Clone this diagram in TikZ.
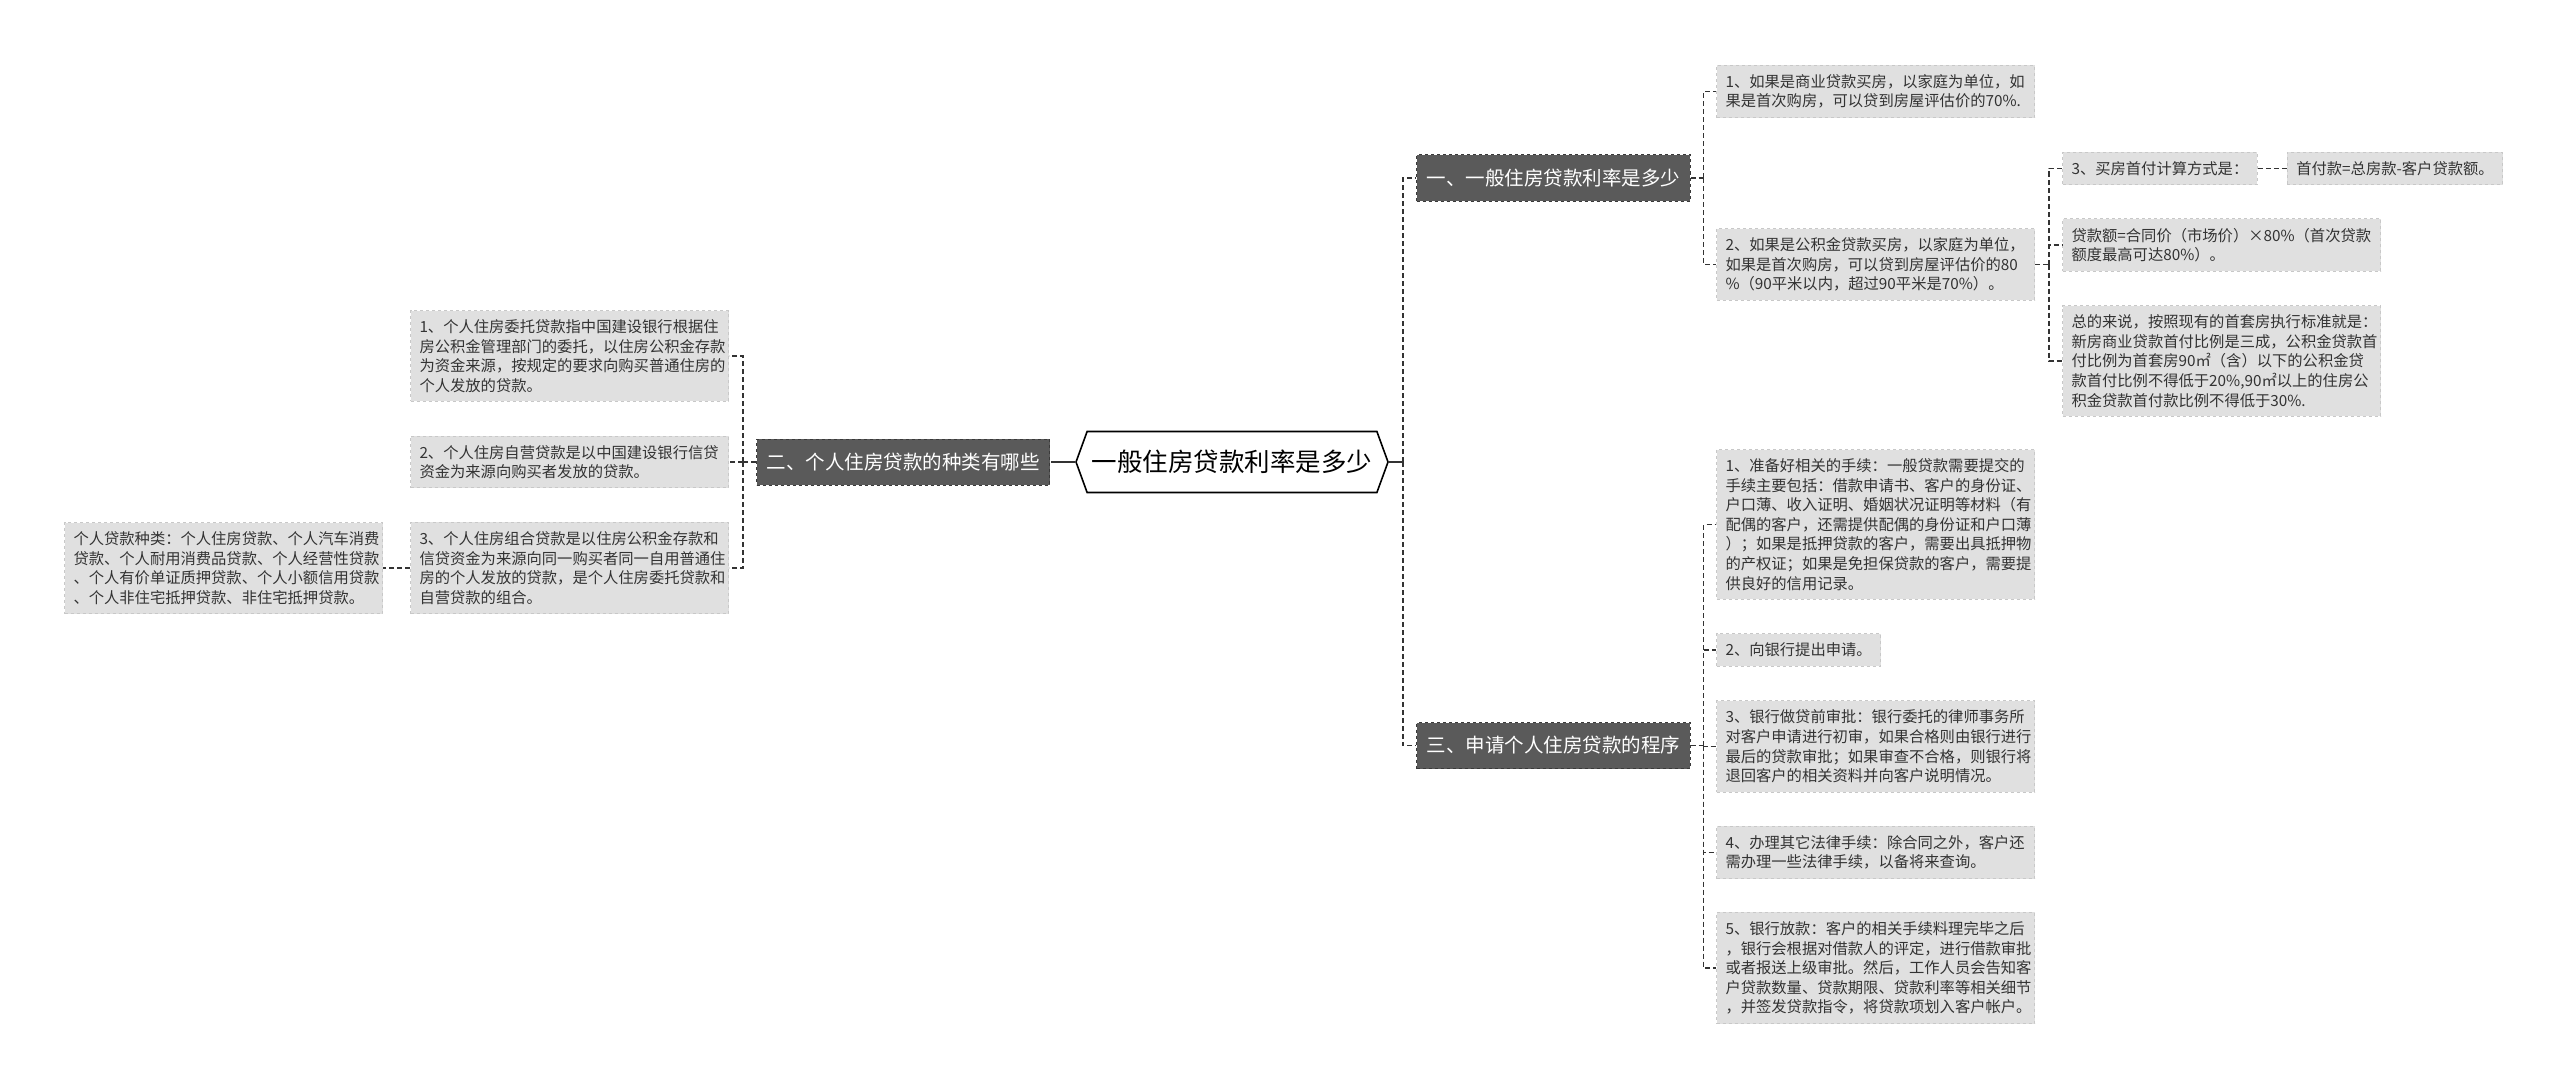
\documentclass[tikz,border=0pt]{standalone}
\usepackage{fontspec}
\setmainfont{Noto Sans CJK SC}
\usetikzlibrary{positioning,shapes.symbols}
\definecolor{mmInk}{HTML}{333333}
\definecolor{mmDark}{HTML}{5A5A5A}
\definecolor{mmDarkB}{HTML}{3A3A3A}
\definecolor{mmLeaf}{HTML}{E0E0E0}
\definecolor{mmLeafB}{HTML}{C8C8C8}
\definecolor{mmWhite}{HTML}{FFFFFF}
\tikzset{
  mm-root/.style={
    signal, signal to=west and east, signal pointer angle=140,
    draw=black, line width=1.6pt, fill=mmWhite, inner sep=0pt,
    minimum width=312pt, minimum height=61pt,
    font=\fontsize{25.5}{30}\selectfont
  },
  mm-branch/.style={draw=mmDarkB, dashed, line width=1pt, fill=mmDark,
    text=mmWhite, font=\fontsize{19.5}{24}\selectfont,
    inner xsep=10pt, minimum height=46pt, anchor=west},
  mm-leaf/.style={draw=mmLeafB, dashed, line width=1pt, fill=mmLeaf,
    text=mmInk, font=\fontsize{15.3}{19.6}\selectfont, align=left,
    inner xsep=9pt, inner ysep=9pt, anchor=west},
  mm-wide/.style={mm-leaf, text width=300pt},
  mm-link/.style={draw=mmInk, line width=1.5pt, dash pattern=on 5pt off 3pt},
  mm-stub/.style={draw=mmInk, line width=2pt}
}

\begin{document}
\begin{tikzpicture}[x=1pt, y=-1pt]
\useasboundingbox (0,0) rectangle (2560,1089);
% Root
\node[mm-root] (root) at (1232,462) {一般住房贷款利率是多少};

% Left: kinds of loans
\node[mm-branch] (kinds) at (756,462) {二、个人住房贷款的种类有哪些};
\node[mm-wide] (kinds1) at (410,356) {1、个人住房委托贷款指中国建设银行根据住\\
  房公积金管理部门的委托，以住房公积金存款\\为资金来源，按规定的要求向购买普通住房的\\
  个人发放的贷款。};
\node[mm-wide] (kinds2) at (410,462) {2、个人住房自营贷款是以中国建设银行信贷\\
  资金为来源向购买者发放的贷款。};
\node[mm-wide] (kinds3) at (410,568) {3、个人住房组合贷款是以住房公积金存款和\\
  信贷资金为来源向同一购买者同一自用普通住\\房的个人发放的贷款，是个人住房委托贷款和\\
  自营贷款的组合。};
\node[mm-wide, left=27pt of kinds3] (kinds3a) {个人贷款种类：个人住房贷款、个人汽车消费\\
  贷款、个人耐用消费品贷款、个人经营性贷款\\、个人有价单证质押贷款、个人小额信用贷款\\
  、个人非住宅抵押贷款、非住宅抵押贷款。};

% Right: rate
\node[mm-branch] (rate) at (1416,178) {一、一般住房贷款利率是多少};
\node[mm-wide] (rate1) at (1716,91.5) {1、如果是商业贷款买房，以家庭为单位，如\\
  果是首次购房，可以贷到房屋评估价的70\%.};
\node[mm-wide] (rate2) at (1716,264.5) {2、如果是公积金贷款买房，以家庭为单位，\\
  如果是首次购房，可以贷到房屋评估价的80\\\%（90平米以内，超过90平米是70\%）。};
\node[mm-leaf] (pay1) at (2062,168.5) {3、买房首付计算方式是：};
\node[mm-leaf, right=29pt of pay1] (pay1a) {首付款=总房款-客户贷款额。};
\node[mm-wide] (pay2) at (2062,245) {贷款额=合同价（市场价）×80\%（首次贷款\\
  额度最高可达80\%）。};
\node[mm-wide] (pay3) at (2062,361) {总的来说，按照现有的首套房执行标准就是：\\
  新房商业贷款首付比例是三成，公积金贷款首\\付比例为首套房90㎡（含）以下的公积金贷\\
  款首付比例不得低于20\%,90㎡以上的住房公\\积金贷款首付款比例不得低于30\%.};

% Right: procedure
\node[mm-branch] (steps) at (1416,745.5) {三、申请个人住房贷款的程序};
\node[mm-wide] (step1) at (1716,524.5) {1、准备好相关的手续：一般贷款需要提交的\\
  手续主要包括：借款申请书、客户的身份证、\\户口薄、收入证明、婚姻状况证明等材料（有\\
  配偶的客户，还需提供配偶的身份证和户口薄\\）；如果是抵押贷款的客户，需要出具抵押物\\
  的产权证；如果是免担保贷款的客户，需要提\\供良好的信用记录。};
\node[mm-leaf] (step2) at (1716,650) {2、向银行提出申请。};
\node[mm-wide] (step3) at (1716,746.5) {3、银行做贷前审批：银行委托的律师事务所\\
  对客户申请进行初审，如果合格则由银行进行\\最后的贷款审批；如果审查不合格，则银行将\\
  退回客户的相关资料并向客户说明情况。};
\node[mm-wide] (step4) at (1716,852.5) {4、办理其它法律手续：除合同之外，客户还\\
  需办理一些法律手续，以备将来查询。};
\node[mm-wide] (step5) at (1716,968) {5、银行放款：客户的相关手续料理完毕之后\\
  ，银行会根据对借款人的评定，进行借款审批\\或者报送上级审批。然后，工作人员会告知客\\
  户贷款数量、贷款期限、贷款利率等相关细节\\，并签发贷款指令，将贷款项划入客户帐户。};

\draw[mm-stub] (root.west) -- ++(-19,0) coordinate (rootL);
\draw[mm-link] (rootL) -- (kinds.east);
\draw[mm-stub] (root.east) -- ++(14,0) coordinate (rootR);
\draw[mm-link] (rootR) |- (rate.west);
\draw[mm-link] (rootR) |- (steps.west);

\draw[mm-link] (kinds.west) -- ++(-13,0) coordinate (kindsJ);
\foreach \n in {kinds1,kinds2,kinds3}
  \draw[mm-link] (kindsJ) |- (\n.east);
\draw[mm-link] (kinds3.west) -- (kinds3a.east);

\draw[mm-link] (rate.east) -- ++(13,0) coordinate (rateJ);
\foreach \n in {rate1,rate2}
  \draw[mm-link] (rateJ) |- (\n.west);
\draw[mm-link] (rate2.east) -- ++(14,0) coordinate (payJ);
\foreach \n in {pay1,pay2,pay3}
  \draw[mm-link] (payJ) |- (\n.west);
\draw[mm-link] (pay1.east) -- (pay1a.west);

\draw[mm-link] (steps.east) -- ++(13,0) coordinate (stepsJ);
\foreach \n in {step1,step2,step3,step4,step5}
  \draw[mm-link] (stepsJ) |- (\n.west);
\end{tikzpicture}
\end{document}
